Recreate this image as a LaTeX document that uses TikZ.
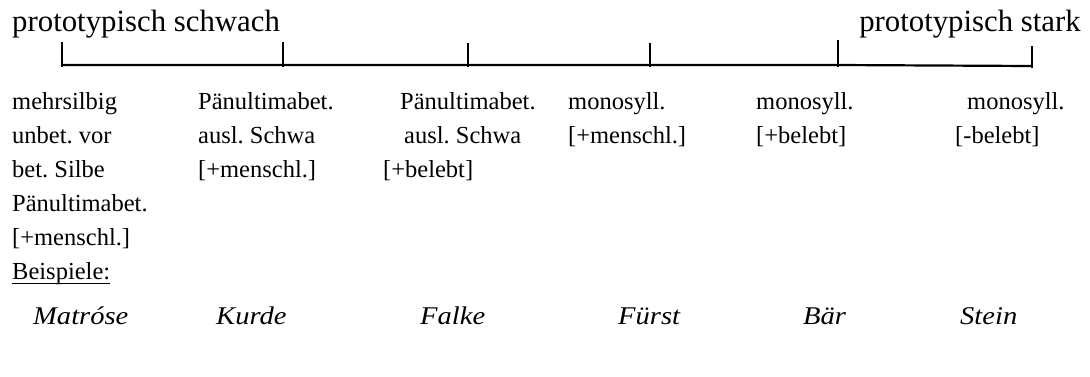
\documentclass[tikz,border=0pt]{standalone}
\usepackage{fontspec}
\setmainfont{Liberation Serif}
\newfontfamily\exfont[FakeStretch=1.12]{Liberation Serif}
\usetikzlibrary{calc}
\frenchspacing
\begin{document}
\begin{tikzpicture}[x=1pt,y=-1pt,
  top/.style={anchor=base west,inner sep=0pt,font=\fontsize{30.8}{34}\selectfont},
  txt/.style={anchor=base west,inner sep=0pt,font=\fontsize{24.5}{28}\selectfont\frenchspacing},
  ex/.style={anchor=base west,inner sep=0pt,font=\exfont\fontsize{25.5}{28}\selectfont\itshape},
  axis/.style={line width=2.2pt},
  tick/.style={line width=2.4pt}]
\useasboundingbox (0,0) rectangle (1090,376);
% top labels
\node[top] (weak) at (12,31) {prototypisch schwach};
\node[top,anchor=base east] (strong) at (1081,31) {prototypisch stark};
% axis
\coordinate (a0) at (62,65);
\coordinate (a1) at (283,65);
\coordinate (a2) at (468,65);
\coordinate (a3) at (650,65);
\coordinate (a4) at (838,65);
\coordinate (a5) at (1032,66);
\draw[axis] (a0) -- (a1) -- (a2) -- (a3) -- (a4) -- (a5);
\foreach \p/\t in {a0/42,a1/42,a2/43,a3/43,a4/40,a5/45}{
  \draw[tick] (\p) ++(0,2) -- ++(0,{-(67-\t)});
}
% column 1
\node[txt] (c1r1) at (12,109) {mehrsilbig};
\node[txt] (c1r2) at (12,143) {unbet. vor};
\node[txt] (c1r3) at (12,177) {bet. Silbe};
\node[txt] (c1r4) at (12,211) {Pänultimabet.};
\node[txt] (c1r5) at (12,245) {[+menschl.]};
\node[txt] (c1r6) at (12,279) {Beispiele:};
\draw[line width=1pt] ($(c1r6.base west)+(0,4)$) -- ($(c1r6.base east)+(0,4)$);
% column 2
\node[txt] (c2r1) at (198,109) {Pänultimabet.};
\node[txt] (c2r2) at (198,143) {ausl. Schwa};
\node[txt] (c2r3) at (198,177) {[+menschl.]};
% column 3
\node[txt] (c3r1) at (400,109) {Pänultimabet.};
\node[txt] (c3r2) at (404,143) {ausl. Schwa};
\node[txt] (c3r3) at (383,177) {[+belebt]};
% column 4
\node[txt] (c4r1) at (568,109) {monosyll.};
\node[txt] (c4r2) at (568,143) {[+menschl.]};
% column 5
\node[txt] (c5r1) at (756,109) {monosyll.};
\node[txt] (c5r2) at (756,143) {[+belebt]};
% column 6
\node[txt] (c6r1) at (967,109) {monosyll.};
\node[txt] (c6r2) at (955,143) {[-belebt]};
% examples
\node[ex] (e1) at (33,324) {Matróse};
\node[ex] (e2) at (216,324) {Kurde};
\node[ex] (e3) at (420,324) {Falke};
\node[ex] (e4) at (618,324) {Fürst};
\node[ex] (e5) at (803,324) {Bär};
\node[ex] (e6) at (960,324) {Stein};
\end{tikzpicture}
\end{document}
